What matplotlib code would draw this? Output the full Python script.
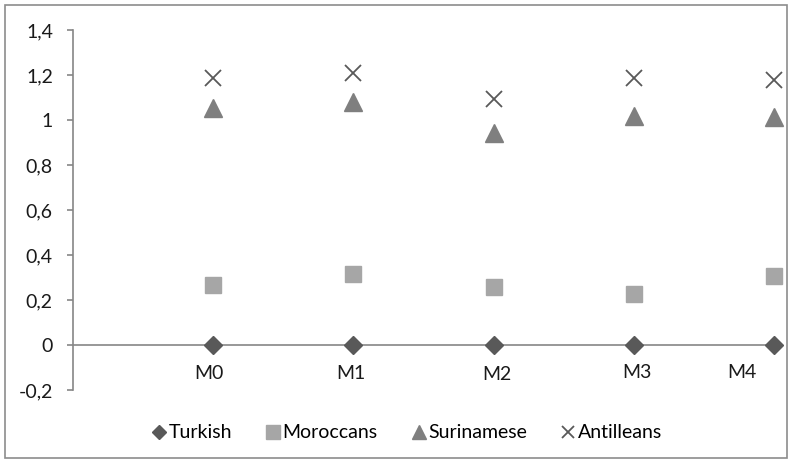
import matplotlib.pyplot as plt
from matplotlib.patches import Rectangle

# data
waves = ["M0", "M1", "M2", "M3", "M4"]
x_pos = [1, 2, 3, 4, 5]
turkish = [0, 0, 0, 0, 0]
moroccans = [0.268, 0.318, 0.256, 0.229, 0.305]
surinamese = [1.053, 1.08, 0.942, 1.019, 1.014]
antilleans = [1.189, 1.212, 1.096, 1.189, 1.179]
y_ticks = [-0.2, 0, 0.2, 0.4, 0.6, 0.8, 1, 1.2, 1.4]

plt.rcParams['font.family'] = ['Lato', 'DejaVu Sans']
FS = 14

fig = plt.figure(figsize=(7.92, 4.63), dpi=100)
fig.patches.append(Rectangle((5 / 792, 5 / 463), 782 / 792, 453 / 463, transform=fig.transFigure,
                             fill=False, edgecolor="#8c8c8c", linewidth=1.2))
ax = fig.add_axes([73 / 792, 1 - 390 / 463, (774 - 73) / 792, (390 - 30.3) / 463])

ax.axhline(0, color="#868686", linewidth=1.2, zorder=1)
ax.plot(x_pos, turkish, linestyle="none", marker="D", ms=9, color="#595959", label="Turkish", clip_on=False, zorder=3)
ax.plot(x_pos, moroccans, linestyle="none", marker="s", ms=12, color="#a6a6a6", label="Moroccans", clip_on=False, zorder=3)
ax.plot(x_pos, surinamese, linestyle="none", marker="^", ms=13, color="#7f7f7f", label="Surinamese", clip_on=False, zorder=3)
ax.plot(x_pos, antilleans, linestyle="none", marker="x", ms=11, mew=1.3, color="#595959", label="Antilleans", clip_on=False, zorder=3)

# wave labels under the zero line
label_x = [0.97, 1.98, 3.02, 4.02, 4.77]
label_y = [-0.126, -0.126, -0.13, -0.122, -0.124]
for t, lx, ly in zip(waves, label_x, label_y):
    ax.text(lx, ly, t, ha="center", va="center", fontsize=FS, color="#1a1a1a")

ax.set_xlim(0, 5)
ax.set_ylim(-0.2, 1.4)
ax.set_xticks([])
ax.set_yticks(y_ticks)
ax.set_yticklabels([f"{v:g}".replace(".", ",") for v in y_ticks], fontsize=FS, color="#1a1a1a")
ax.tick_params(axis="y", direction="out", length=4.5, color="#868686", width=1.2, pad=10)
for s in ["top", "right", "bottom"]:
    ax.spines[s].set_visible(False)
ax.spines["left"].set_color("#868686")
ax.spines["left"].set_linewidth(1.2)

leg = fig.legend(loc="center", bbox_to_anchor=(0.512, 1 - 433 / 463), ncol=4, frameon=False,
                 fontsize=FS, handletextpad=0.0, columnspacing=1.6, markerscale=0.8, handlelength=1.0)

fig.savefig("out.png", dpi=100)
